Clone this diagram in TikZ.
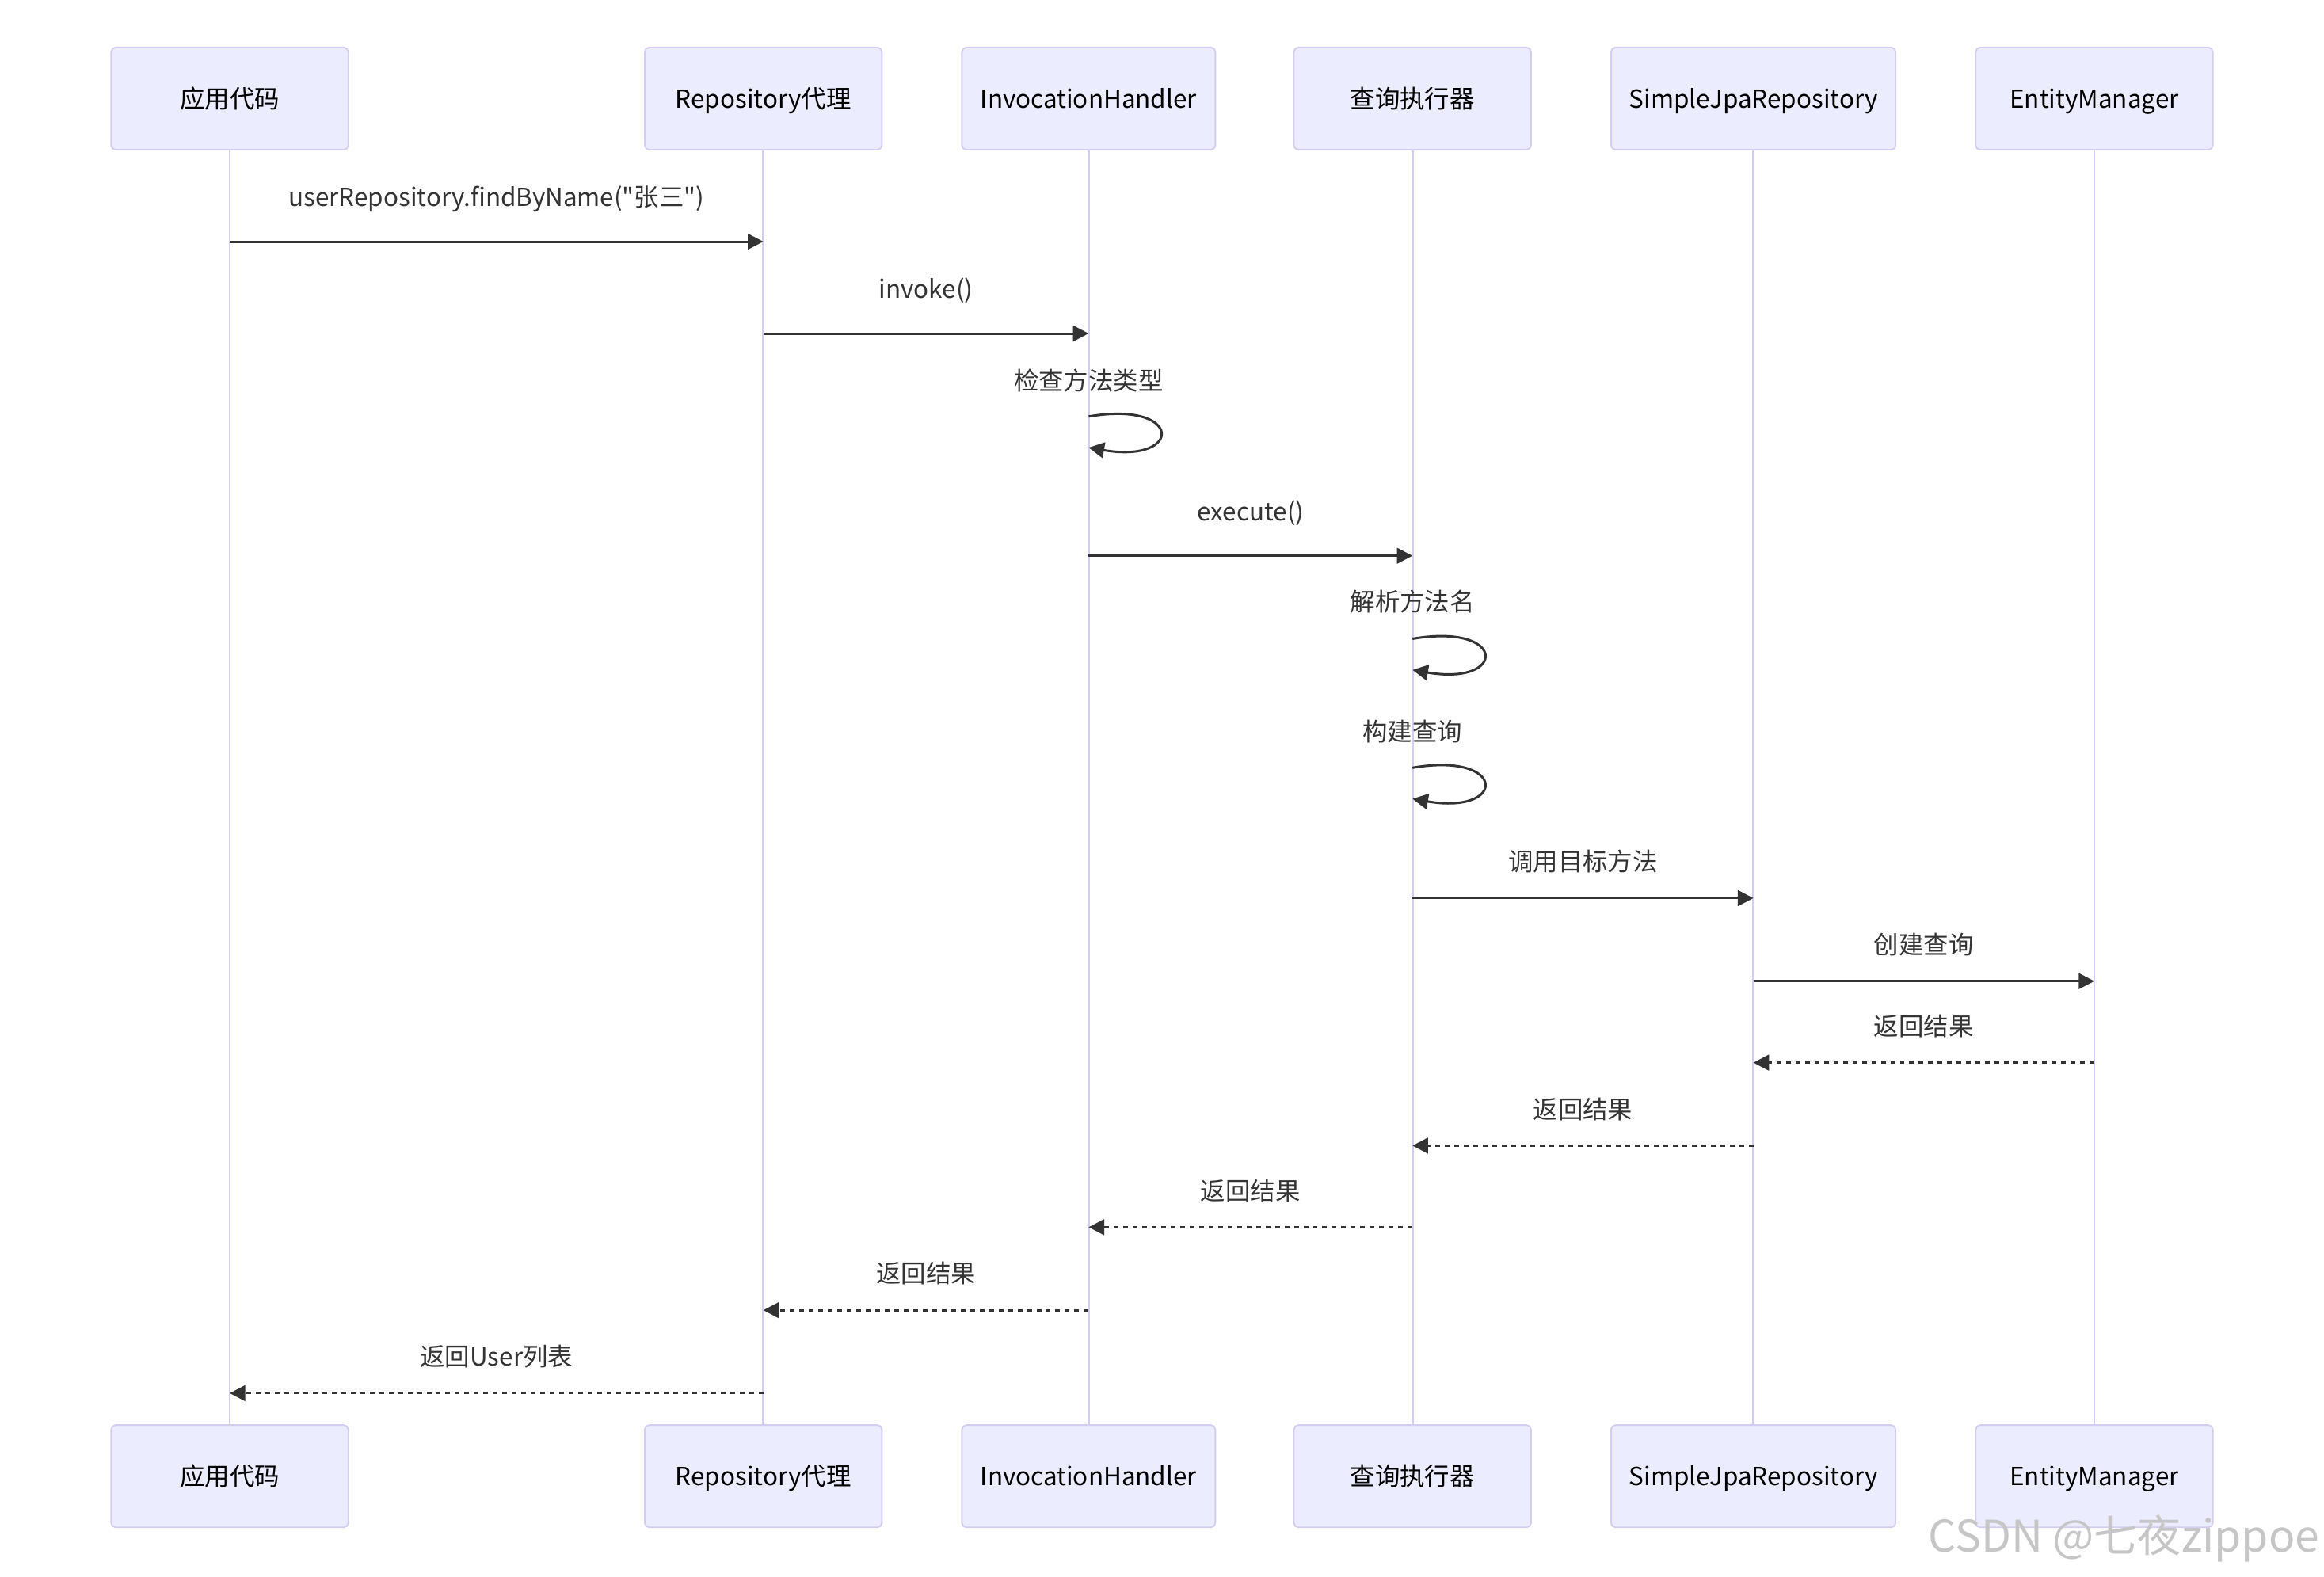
\documentclass[tikz,border=0pt]{standalone}
\usepackage{fontspec}
\setmainfont{Noto Sans CJK SC}[Ligatures=TeXOff]
\usetikzlibrary{arrows.meta}
\definecolor{actorfill}{HTML}{ECECFF}
\definecolor{actorline}{HTML}{D5CCF2}
\definecolor{sig}{HTML}{333333}
\begin{document}
\begin{tikzpicture}[x=1pt,y=-1pt,
  actor/.style={draw=actorline, line width=1pt, fill=actorfill, rounded corners=3pt,
    minimum width=160pt, minimum height=69pt, inner sep=0pt, text=black,
    text height=12.4pt, text depth=0pt,
    font=\fontsize{16.8}{20}\selectfont},
  life/.style={draw=actorline, line width=1.5pt},
  msg/.style={draw=sig, line width=1.6pt, -{Triangle[length=10.5pt,width=10.5pt]}},
  ret/.style={msg, dash pattern=on 3.2pt off 3.2pt},
  lbl/.style={font=\fontsize{16.8}{20}\selectfont, text=sig, inner sep=0pt,
    text height=12.4pt, text depth=0pt},
  wmark/.style={font=\fontsize{29.5}{33}\selectfont, text=gray!45, inner sep=0pt}]
\useasboundingbox (0,0) rectangle (1568,1063.5);

% actors (top)
\node[actor] (a1) at (155,66.5) {应用代码};
\node[actor] (a2) at (515,66.5) {Repository代理};
\node[actor, minimum width=171pt] (a3) at (734.5,66.5) {InvocationHandler};
\node[actor] (a4) at (953,66.5) {查询执行器};
\node[actor, minimum width=192pt] (a5) at (1183,66.5) {SimpleJpaRepository};
\node[actor] (a6) at (1413,66.5) {EntityManager};
% actors (bottom)
\node[actor] (b1) at (155,996) {应用代码};
\node[actor] (b2) at (515,996) {Repository代理};
\node[actor, minimum width=171pt] (b3) at (734.5,996) {InvocationHandler};
\node[actor] (b4) at (953,996) {查询执行器};
\node[actor, minimum width=192pt] (b5) at (1183,996) {SimpleJpaRepository};
\node[actor] (b6) at (1413,996) {EntityManager};

% lifelines
\foreach \i in {1,...,6} { \draw[life] (a\i.south) -- (b\i.north); }

% message rows
\coordinate (r1) at (0,163);
\coordinate (r2) at (0,225);
\coordinate (l1s) at (0,281);
\coordinate (l1e) at (0,302);
\coordinate (t1) at (0,257);
\coordinate (r4) at (0,375);
\coordinate (l2s) at (0,431);
\coordinate (l2e) at (0,452);
\coordinate (t2) at (0,406);
\coordinate (l3s) at (0,518);
\coordinate (l3e) at (0,539);
\coordinate (t3) at (0,494);
\coordinate (r7) at (0,606);
\coordinate (r8) at (0,662);
\coordinate (r9) at (0,717);
\coordinate (r10) at (0,773);
\coordinate (r11) at (0,828);
\coordinate (r12) at (0,884);
\coordinate (r13) at (0,940);

\draw[msg] (a1 |- r1) -- node[lbl, yshift=30pt] {userRepository.findByName("张三")} (a2 |- r1);
\draw[msg] (a2 |- r2) -- node[lbl, yshift=30pt] {invoke()} (a3 |- r2);
\node[lbl] (t1n) at (a3 |- t1) {检查方法类型};
\draw[msg] (a3 |- l1s) .. controls +(64,-11) and +(64,11) .. (a3 |- l1e);
\draw[msg] (a3 |- r4) -- node[lbl, yshift=30pt] {execute()} (a4 |- r4);
\node[lbl] (t2n) at (a4 |- t2) {解析方法名};
\draw[msg] (a4 |- l2s) .. controls +(64,-11) and +(64,11) .. (a4 |- l2e);
\node[lbl] (t3n) at (a4 |- t3) {构建查询};
\draw[msg] (a4 |- l3s) .. controls +(64,-11) and +(64,11) .. (a4 |- l3e);
\draw[msg] (a4 |- r7) -- node[lbl, yshift=24.5pt] {调用目标方法} (a5 |- r7);
\draw[msg] (a5 |- r8) -- node[lbl, yshift=24.5pt] {创建查询} (a6 |- r8);
\draw[ret] (a6 |- r9) -- node[lbl, yshift=24.5pt] {返回结果} (a5 |- r9);
\draw[ret] (a5 |- r10) -- node[lbl, yshift=24.5pt] {返回结果} (a4 |- r10);
\draw[ret] (a4 |- r11) -- node[lbl, yshift=24.5pt] {返回结果} (a3 |- r11);
\draw[ret] (a3 |- r12) -- node[lbl, yshift=24.5pt] {返回结果} (a2 |- r12);
\draw[ret] (a2 |- r13) -- node[lbl, yshift=24.5pt] {返回User列表} (a1 |- r13);

% watermark
\node[wmark, anchor=east] (wm) at (1565,1038) {CSDN @七夜zippoe};
\end{tikzpicture}
\end{document}
